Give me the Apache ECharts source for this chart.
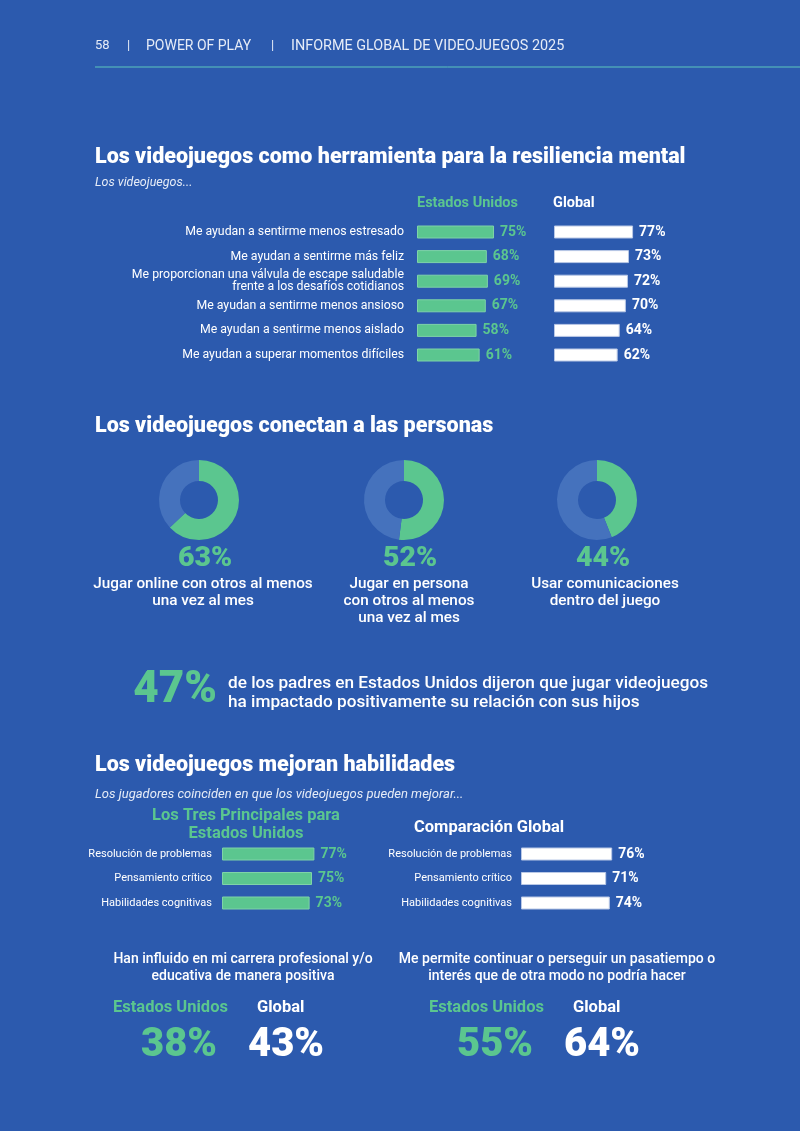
<!DOCTYPE html>
<html><head><meta charset="utf-8">
<script src="https://cdn.jsdelivr.net/npm/echarts@6/dist/echarts.min.js"></script>
<style>html,body{margin:0;padding:0;background:#2c5aae}#c{width:800px;height:1131px}</style>
</head><body><div id="c"></div>
<script>
// ---- data ----
const resCategories = ["Me ayudan a sentirme menos estresado","Me ayudan a sentirme más feliz","Me proporcionan una válvula de escape saludable\nfrente a los desafíos cotidianos","Me ayudan a sentirme menos ansioso","Me ayudan a sentirme menos aislado","Me ayudan a superar momentos difíciles"];
const resUS = [75,68,69,67,58,61];
const resGlobal = [77,73,72,70,64,62];
const connectValues = [63,52,44];
const connectLabels = ["Jugar online con otros al menos\nuna vez al mes","Jugar en persona\ncon otros al menos\nuna vez al mes","Usar comunicaciones\ndentro del juego"];
const parentsValue = 47;
const skillCategories = ["Resolución de problemas","Pensamiento crítico","Habilidades cognitivas"];
const skillUS = [77,75,73];
const skillGlobal = [76,71,74];
const careerUS = 38, careerGlobal = 43;
const hobbyUS = 55, hobbyGlobal = 64;

const GREEN = '#5bc68f', WHITE = '#ffffff', BG = '#2c5aae', DONUT_REST = '#4572bd';
const FF = 'Roboto, "Liberation Sans", sans-serif';

const chart = echarts.init(document.getElementById('c'), null, {renderer:'canvas'});

function txt(x, y, text, size, color, opts) {
  opts = opts || {};
  return {type:'text', x:x, y:y, silent:true, style:{text:text, fill:color, fontSize:size, fontFamily:FF,
    fontWeight:opts.weight||'normal', fontStyle:opts.style||'normal', textAlign:opts.align||'left',
    textVerticalAlign:'middle', lineHeight:opts.lh||undefined}};
}

const grids = [
  {left:417, top:219.7, width:102.7, height:147.6},
  {left:554, top:219.7, width:102.7, height:147.6},
  {left:222, top:841.75, width:120, height:73.5},
  {left:521, top:841.75, width:120, height:73.5}
];
const xAxes = grids.map((g,i)=>({type:'value', gridIndex:i, min:0, max:100, show:false}));
function yAx(i, cats, showLabels, fs) {
  return {type:'category', gridIndex:i, data:cats, inverse:true,
    axisLine:{show:false}, axisTick:{show:false}, splitLine:{show:false},
    axisLabel:{show:showLabels, color:'#ffffff', fontSize:fs, fontFamily:FF, margin:13, lineHeight:12, align:'right'}};
}
const yAxes = [yAx(0,resCategories,true,12.3), yAx(1,resCategories,false,12), yAx(2,skillCategories,true,11), yAx(3,skillCategories,true,11)];
yAxes[3].axisLabel.margin = 9;
yAxes[2].axisLabel.margin = 10;

function barSeries(i, data, color, lblColor, bw, fs) {
  return {type:'bar', xAxisIndex:i, yAxisIndex:i, data:data, barWidth:bw, silent:true,
    itemStyle:{color:color, borderColor: color===WHITE ? '#b9c8e6' : '#7fd3a8', borderWidth:1},
    label:{show:true, position:'right', distance:6, formatter:'{c}%', color:lblColor, fontWeight:'bold', fontSize:fs, fontFamily:FF}};
}

const donutCenters = [199, 404, 597];
const pies = connectValues.map((v,i)=>({type:'pie', center:[donutCenters[i],500], radius:[19,40], startAngle:90, clockwise:true,
  silent:true, label:{show:false}, labelLine:{show:false}, emphasis:{disabled:true},
  data:[{value:v, itemStyle:{color:GREEN}}, {value:100-v, itemStyle:{color:DONUT_REST}}]}));

const g = [];
// header
const HC = '#e6ecf7';
g.push(txt(95,46,'58',13,HC));
g.push(txt(127,46,'|',13,HC));
g.push(txt(146,46,'POWER OF PLAY',14,HC));
g.push(txt(271,46,'|',13,HC));
g.push(txt(291,46,'INFORME GLOBAL DE VIDEOJUEGOS 2025',14.4,HC));
g.push({type:'line', silent:true, shape:{x1:95,y1:67,x2:800,y2:67}, style:{stroke:'#5cc6bc', lineWidth:1}});
// section 1
g.push(txt(95,158,'Los videojuegos como herramienta para la resiliencia mental',21.5,WHITE,{weight:900}));
g.push(txt(95,183,'Los videojuegos...',12.5,HC,{style:'italic'}));
g.push(txt(417,203,'Estados Unidos',14.5,GREEN,{weight:'bold'}));
g.push(txt(553,203,'Global',14.5,WHITE,{weight:'bold'}));
// section 2
g.push(txt(95,427,'Los videojuegos conectan a las personas',21.5,WHITE,{weight:900}));
const descOffsets = [4, 5, 8];
connectValues.forEach((v,i)=>{
  g.push(txt(donutCenters[i]+6,559,v+'%',28.5,GREEN,{weight:900,align:'center'}));
  const lines = connectLabels[i].split('\n');
  lines.forEach((l,j)=>g.push(txt(donutCenters[i]+descOffsets[i],584+j*17,l,15.3,WHITE,{align:'center',weight:'500'})));
});
g.push(txt(217,691,parentsValue+'%',44,GREEN,{weight:900,align:'right'}));
g.push(txt(228,684,'de los padres en Estados Unidos dijeron que jugar videojuegos',17.2,WHITE,{weight:'500'}));
g.push(txt(228,703,'ha impactado positivamente su relación con sus hijos',17.2,WHITE,{weight:'500'}));
// section 3
g.push(txt(95,766,'Los videojuegos mejoran habilidades',21.5,WHITE,{weight:900}));
g.push(txt(95,795,'Los jugadores coinciden en que los videojuegos pueden mejorar...',13,HC,{style:'italic'}));
g.push(txt(246,816,'Los Tres Principales para',16.5,GREEN,{weight:'bold',align:'center'}));
g.push(txt(246,834,'Estados Unidos',16.5,GREEN,{weight:'bold',align:'center'}));
g.push(txt(414,828,'Comparación Global',16.5,WHITE,{weight:'bold'}));
// bottom
g.push(txt(243,959,'Han influido en mi carrera profesional y/o',14,WHITE,{weight:'500',align:'center'}));
g.push(txt(243,976,'educativa de manera positiva',14,WHITE,{weight:'500',align:'center'}));
g.push(txt(557,959,'Me permite continuar o perseguir un pasatiempo o',14,WHITE,{weight:'500',align:'center'}));
g.push(txt(557,976,'interés que de otra modo no podría hacer',14,WHITE,{weight:'500',align:'center'}));
g.push(txt(113,1008,'Estados Unidos',16.5,GREEN,{weight:'bold'}));
g.push(txt(257,1008,'Global',16.5,WHITE,{weight:'bold'}));
g.push(txt(429,1008,'Estados Unidos',16.5,GREEN,{weight:'bold'}));
g.push(txt(573,1008,'Global',16.5,WHITE,{weight:'bold'}));
g.push(txt(179,1046,careerUS+'%',40,GREEN,{weight:900,align:'center'}));
g.push(txt(286,1046,careerGlobal+'%',40,WHITE,{weight:900,align:'center'}));
g.push(txt(495,1046,hobbyUS+'%',40,GREEN,{weight:900,align:'center'}));
g.push(txt(602,1046,hobbyGlobal+'%',40,WHITE,{weight:900,align:'center'}));

chart.setOption({
  backgroundColor: BG,
  animation:false,
  grid: grids,
  xAxis: xAxes,
  yAxis: yAxes,
  series: [
    barSeries(0,resUS,GREEN,GREEN,13,14),
    barSeries(1,resGlobal,WHITE,WHITE,13,14),
    barSeries(2,skillUS,GREEN,GREEN,13,14),
    barSeries(3,skillGlobal,WHITE,WHITE,13,14)
  ].concat(pies),
  graphic: g
});
</script></body></html>
